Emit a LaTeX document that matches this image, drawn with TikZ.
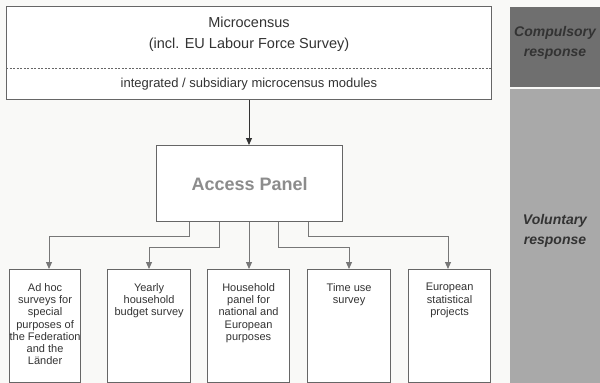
\documentclass[tikz,border=0pt]{standalone}
\usepackage{fontspec}
\setmainfont{Liberation Sans}
\usetikzlibrary{arrows.meta}
\definecolor{bg}{HTML}{F9F9F7}
\definecolor{boxline}{HTML}{666666}
\definecolor{conn}{HTML}{777777}
\definecolor{darkpanel}{HTML}{6F6F6F}
\definecolor{lightpanel}{HTML}{A9A9A9}
\definecolor{txt}{HTML}{333333}
\definecolor{apanel}{HTML}{8C8C8C}
\tikzset{
  boxstyle/.style={draw=boxline, line width=1.2pt, fill=white, inner sep=0pt},
  bottxt/.style={font=\fontsize{11}{12.3}\selectfont, text=txt, align=center, inner sep=0pt, anchor=north},
  conline/.style={draw=conn, line width=1pt, -{Triangle[width=6pt,length=7pt]}},
  mainline/.style={draw=txt, line width=1pt, -{Triangle[width=6pt,length=7pt]}},
  paneltxt/.style={font=\fontsize{14}{19.5}\selectfont\bfseries\itshape, text=txt, align=center},
  toptxt/.style={text=txt, font=\fontsize{14.5}{16}\selectfont, inner sep=0pt}
}
\begin{document}
\begin{tikzpicture}[x=1pt,y=-1pt]
\useasboundingbox (0,0) rectangle (600,383);
\fill[bg] (0,0) rectangle (600,383);
% right panels
\node[fill=darkpanel, minimum width=90pt, minimum height=80pt, inner sep=0pt, anchor=north west] (comp) at (510,7) {};
\node[fill=lightpanel, minimum width=90pt, minimum height=294pt, inner sep=0pt, anchor=north west] (vol) at (510,89) {};
\node[paneltxt] (comptxt) at (555,43) {Compulsory\\response};
\node[paneltxt] (voltxt) at (555,231) {Voluntary\\response};
% top box
\node[boxstyle, minimum width=485pt, minimum height=93pt, anchor=north west] (mc) at (6,6) {};
\draw[boxline, line width=0.6pt, dash pattern=on 2pt off 1.5pt] (mc.west |- 0,68) -- (mc.east |- 0,68);
\node[toptxt] (mct1) at (249,22) {Microcensus};
\node[toptxt] (mct2) at (249,45) {(incl. EU Labour Force Survey)};
\node[text=txt, font=\fontsize{13}{14}\selectfont, inner sep=0pt] (mct3) at (249,84) {integrated / subsidiary microcensus modules};
% access panel
\node[boxstyle, minimum width=186pt, minimum height=76pt, anchor=north west, font=\fontsize{18}{20}\selectfont\bfseries, text=apanel] (ap) at (156,145) {Access Panel};
\draw[mainline] (mc.south -| 249,0) -- (ap.north -| 249,0);
% bottom boxes
\node[boxstyle, minimum width=71pt, minimum height=113pt, anchor=north west] (b1) at (9,269) {};
\node[boxstyle, minimum width=83pt, minimum height=113pt, anchor=north west] (b2) at (107,269) {};
\node[boxstyle, minimum width=82pt, minimum height=113pt, anchor=north west] (b3) at (207,269) {};
\node[boxstyle, minimum width=83pt, minimum height=113pt, anchor=north west] (b4) at (307,269) {};
\node[boxstyle, minimum width=82pt, minimum height=113pt, anchor=north west] (b5) at (408,269) {};
\node[bottxt] (t1) at ([yshift=-14pt]b1.north) {Ad hoc\\surveys for\\special\\purposes of\\the Federation\\and the\\Länder};
\node[bottxt] (t2) at ([yshift=-14pt]b2.north) {Yearly\\household\\budget survey};
\node[bottxt] (t3) at ([yshift=-14pt]b3.north) {Household\\panel for\\national and\\European\\purposes};
\node[bottxt] (t4) at ([yshift=-14pt]b4.north) {Time use\\survey};
\node[bottxt] (t5) at ([yshift=-14pt]b5.north) {European\\statistical\\projects};
% connectors
\draw[conline] (ap.south -| 189,0) |- (49,236) -- (b1.north -| 49,0);
\draw[conline] (ap.south -| 219,0) |- (149,247) -- (b2.north -| 149,0);
\draw[conline] (ap.south -| 249,0) -- (b3.north -| 249,0);
\draw[conline] (ap.south -| 278,0) |- (349,247) -- (b4.north -| 349,0);
\draw[conline] (ap.south -| 308,0) |- (448,236) -- (b5.north -| 448,0);
\end{tikzpicture}
\end{document}
